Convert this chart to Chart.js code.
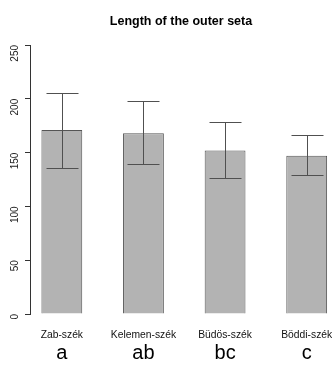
<!DOCTYPE html>
<html>
<head>
<meta charset="utf-8">
<script src="https://cdn.jsdelivr.net/npm/chart.js@4/dist/chart.umd.min.js"></script>
<style>
  html, body { margin: 0; padding: 0; background: #fff; }
  #wrap { width: 332px; height: 365px; }
</style>
</head>
<body>
<div id="wrap"><canvas id="chartSeta"></canvas></div>
<script>
// Datos
const sites = ['Zab-szék', 'Kelemen-szék', 'Büdös-szék', 'Böddi-szék'];
const groups = ['a', 'ab', 'bc', 'c'];
const means = [171, 168, 152, 147];
const upper = [205, 198, 178, 166];
const lower = [136, 139, 126, 129];
const yTicks = [0, 50, 100, 150, 200, 250];

// posiciones de barra como en barplot de R (ancho 1, espacio 1)
const barPos = sites.map((s, i) => 1.5 + i * 2);

// barras de error
const errorBars = {
    id: 'errorBars',
    afterDatasetsDraw(chart) {
        const x = chart.scales.x, y = chart.scales.y, ctx = chart.ctx;
        ctx.save();
        ctx.strokeStyle = '#505050';
        ctx.lineWidth = 1;
        barPos.forEach((p, i) => {
            const px = Math.round(x.getPixelForValue(p)) + 0.5;
            const yu = Math.round(y.getPixelForValue(upper[i])) + 0.5;
            const yl = Math.round(y.getPixelForValue(lower[i])) + 0.5;
            ctx.beginPath();
            ctx.moveTo(px, yu); ctx.lineTo(px, yl);
            ctx.moveTo(px - 16, yu); ctx.lineTo(px + 16, yu);
            ctx.moveTo(px - 16, yl); ctx.lineTo(px + 16, yl);
            ctx.stroke();
        });
        ctx.restore();
    }
};

const setBarTicks = (scale) => { scale.ticks = barPos.map(v => ({ value: v })); };
const noPad = (scale) => { scale.paddingLeft = 0; scale.paddingRight = 0; };

const ctxSeta = document.getElementById('chartSeta').getContext('2d');
new Chart(ctxSeta, {
    type: 'bar',
    data: {
        datasets: [{
            data: barPos.map((p, i) => ({ x: p, y: means[i] })),
            backgroundColor: '#b3b3b3',
            borderColor: '#555555',
            borderWidth: 1,
            barPercentage: 0.5,
            categoryPercentage: 1.0
        }]
    },
    options: {
        responsive: true,
        maintainAspectRatio: false,
        animation: false,
        layout: { padding: 0 },
        plugins: {
            legend: { display: false },
            tooltip: { enabled: false },
            title: {
                display: true,
                fullSize: false,
                text: 'Length of the outer seta',
                color: '#000',
                font: { family: 'Liberation Sans', size: 12.5, weight: 'bold', lineHeight: 1.2 },
                padding: { top: 14, bottom: 16 }
            }
        },
        scales: {
            x: {
                type: 'linear',
                min: 0.72,
                max: 8.12,
                offset: false,
                weight: 0,
                grid: { display: false, drawTicks: false },
                border: { display: false },
                afterBuildTicks: setBarTicks,
                afterFit(scale) { scale.height = 27; noPad(scale); },
                ticks: {
                    autoSkip: false,
                    maxRotation: 0,
                    padding: 15,
                    color: '#111',
                    font: { family: 'Liberation Sans', size: 10.3 },
                    callback: (v) => sites[barPos.indexOf(v)]
                }
            },
            x2: {
                type: 'linear',
                position: 'bottom',
                min: 0.72,
                max: 8.12,
                offset: false,
                weight: 1,
                grid: { display: false, drawTicks: false },
                border: { display: false },
                afterBuildTicks: setBarTicks,
                afterFit(scale) { scale.height = 24; noPad(scale); },
                ticks: {
                    autoSkip: false,
                    maxRotation: 0,
                    padding: 0,
                    color: '#000',
                    font: { family: 'Liberation Sans', size: 20 },
                    callback: (v) => groups[barPos.indexOf(v)]
                }
            },
            y: {
                min: 0,
                max: 250,
                afterBuildTicks(scale) { scale.ticks = yTicks.map(v => ({ value: v })); },
                afterFit(scale) { scale.width = 30; },
                grid: { display: true, drawOnChartArea: false, drawTicks: true, tickLength: 5, color: '#333' },
                border: { display: true, color: '#333', width: 1 },
                ticks: {
                    minRotation: 90,
                    maxRotation: 90,
                    padding: 10,
                    color: '#222',
                    font: { family: 'Liberation Sans', size: 10 }
                }
            }
        }
    },
    plugins: [errorBars]
});
</script>
</body>
</html>
